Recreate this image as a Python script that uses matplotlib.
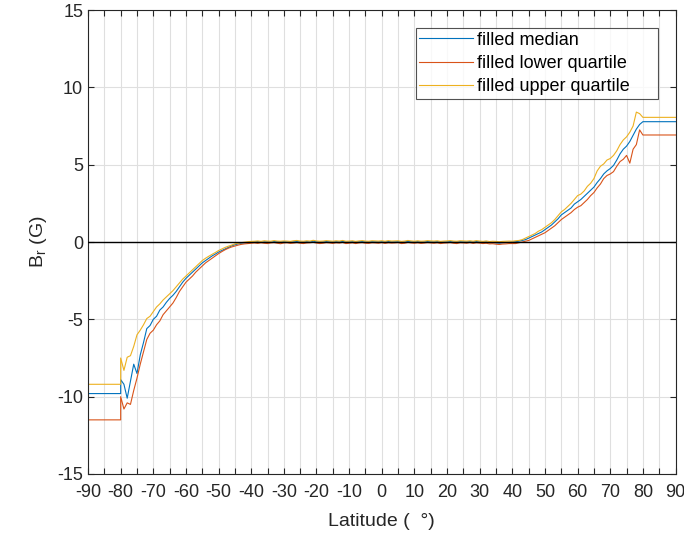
import numpy as np
import matplotlib
matplotlib.use('Agg')
import matplotlib.pyplot as plt

plt.rcParams['font.family'] = ['Liberation Sans', 'DejaVu Sans']
plt.rcParams['axes.unicode_minus'] = False

# latitude grid of the data (degrees)
lat_data = np.arange(-80, 81, 1)

# fill values used poleward of +-80
fill_south = {'median': -9.8, 'lower': -11.5, 'upper': -9.2}
fill_north = {'median': 7.78, 'lower': 6.92, 'upper': 8.06}

# median Br (G), -80 .. 80 by 1 degree
med_south = [-8.9, -9.2, -10.1, -9.0, -7.9, -8.5, -7.3, -6.5, -5.6, -5.4,
             -5.0, -4.8, -4.4, -4.2, -3.9, -3.65, -3.45, -3.2, -2.9, -2.6,
             -2.35, -2.15, -1.95, -1.75, -1.55, -1.35, -1.2, -1.05, -0.9, -0.78,
             -0.65, -0.55, -0.45, -0.35, -0.25, -0.18, -0.12, -0.08, -0.05, -0.03,
             -0.02]
med_mid = [0.0, 0.02, -0.03, 0.01, 0.0, -0.02, 0.03, 0.01, -0.01, 0.02,
           0.0, -0.02, 0.01, 0.03, 0.0, -0.01, 0.02, 0.0, 0.05, 0.01,
           -0.02, 0.0, 0.03, 0.01, -0.01, 0.02, 0.0, 0.04, -0.01, 0.0,
           0.02, -0.02, 0.01, 0.03, 0.0, -0.01, 0.02, 0.01, 0.0, 0.02,
           -0.01, 0.03, 0.0, 0.01, 0.02, -0.02, 0.0, 0.04, 0.01, 0.0,
           0.02, -0.01, 0.0, 0.03, 0.01, 0.0, 0.02, -0.02, 0.0, 0.01,
           0.03, 0.0, -0.01, 0.02, 0.01, 0.0, 0.02, -0.01, 0.03, 0.0,
           -0.02, 0.01, -0.05, -0.03, -0.06, -0.08, -0.05, -0.03, -0.02]
med_north = [0.0, 0.02, 0.05, 0.1, 0.15, 0.25, 0.35, 0.45, 0.55, 0.65,
             0.8, 0.95, 1.1, 1.3, 1.5, 1.75, 1.9, 2.05, 2.2, 2.45,
             2.6, 2.75, 2.95, 3.15, 3.35, 3.55, 3.85, 4.1, 4.4, 4.6,
             4.75, 4.95, 5.3, 5.7, 6.0, 6.2, 6.5, 6.9, 7.3, 7.6,
             7.78]

# lower quartile
low_south = [-10.0, -10.8, -10.4, -10.5, -9.6, -8.8, -7.9, -7.1, -6.3, -5.9,
             -5.7, -5.35, -5.1, -4.7, -4.45, -4.2, -3.95, -3.6, -3.2, -2.9,
             -2.6, -2.4, -2.2, -1.95, -1.75, -1.55, -1.35, -1.2, -1.05, -0.9,
             -0.75, -0.62, -0.5, -0.4, -0.32, -0.26, -0.2, -0.15, -0.12, -0.1,
             -0.08]
low_mid = [-0.06, -0.09, -0.05, -0.08, -0.1, -0.06, -0.04, -0.08, -0.11, -0.06,
           -0.05, -0.09, -0.07, -0.04, -0.08, -0.1, -0.06, -0.05, -0.02, -0.07,
           -0.1, -0.08, -0.04, -0.06, -0.09, -0.05, -0.07, -0.03, -0.1, -0.08,
           -0.05, -0.1, -0.06, -0.04, -0.08, -0.09, -0.05, -0.06, -0.08, -0.04,
           -0.09, -0.05, -0.07, -0.06, -0.04, -0.1, -0.08, -0.03, -0.06, -0.08,
           -0.05, -0.09, -0.07, -0.04, -0.06, -0.08, -0.05, -0.1, -0.07, -0.06,
           -0.04, -0.08, -0.1, -0.05, -0.06, -0.08, -0.04, -0.09, -0.05, -0.07,
           -0.1, -0.08, -0.12, -0.11, -0.14, -0.16, -0.13, -0.12, -0.1]
low_north = [-0.1, -0.1, -0.05, 0.0, 0.05, 0.1, 0.2, 0.3, 0.4, 0.5,
             0.6, 0.75, 0.9, 1.05, 1.25, 1.45, 1.6, 1.75, 1.9, 2.1,
             2.25, 2.35, 2.55, 2.75, 3.0, 3.2, 3.5, 3.75, 4.1, 4.3,
             4.4, 4.55, 4.9, 5.2, 5.35, 5.6, 5.1, 6.0, 6.3, 7.25,
             6.92]

# upper quartile
upp_south = [-7.5, -8.3, -7.45, -7.35, -6.75, -6.0, -5.7, -5.35, -4.95, -4.8,
             -4.5, -4.2, -4.0, -3.75, -3.55, -3.35, -3.15, -2.9, -2.65, -2.4,
             -2.2, -2.0, -1.8, -1.6, -1.4, -1.2, -1.05, -0.92, -0.8, -0.68,
             -0.55, -0.45, -0.35, -0.27, -0.2, -0.12, -0.08, -0.04, -0.01, 0.02,
             0.04]
upp_mid = [0.05, 0.07, 0.04, 0.08, 0.06, 0.05, 0.09, 0.06, 0.05, 0.07,
           0.06, 0.04, 0.08, 0.1, 0.06, 0.05, 0.08, 0.06, 0.11, 0.07,
           0.05, 0.06, 0.09, 0.07, 0.05, 0.08, 0.06, 0.1, 0.05, 0.06,
           0.08, 0.04, 0.07, 0.09, 0.06, 0.05, 0.08, 0.07, 0.06, 0.08,
           0.05, 0.09, 0.06, 0.07, 0.08, 0.04, 0.06, 0.1, 0.07, 0.05,
           0.08, 0.05, 0.06, 0.09, 0.07, 0.06, 0.08, 0.04, 0.06, 0.07,
           0.09, 0.06, 0.05, 0.08, 0.07, 0.06, 0.08, 0.05, 0.09, 0.06,
           0.04, 0.07, 0.03, 0.05, 0.04, 0.02, 0.04, 0.05, 0.06]
upp_north = [0.05, 0.08, 0.1, 0.15, 0.25, 0.35, 0.45, 0.55, 0.7, 0.8,
             0.95, 1.1, 1.25, 1.45, 1.7, 1.95, 2.1, 2.3, 2.5, 2.75,
             3.0, 3.1, 3.3, 3.6, 3.8, 4.1, 4.6, 4.9, 5.05, 5.3,
             5.4, 5.6, 5.9, 6.3, 6.6, 6.8, 7.1, 7.5, 8.4, 8.3,
             8.06]

series = [
    ('filled median', 'median', med_south, med_mid, med_north, '#0072BD'),
    ('filled lower quartile', 'lower', low_south, low_mid, low_north, '#D95319'),
    ('filled upper quartile', 'upper', upp_south, upp_mid, upp_north, '#EDB120'),
]

fig = plt.figure(figsize=(6.84, 5.39), dpi=100)
ax = fig.add_axes([0.1287, 0.1206, 0.8589, 0.8608])

x = np.concatenate([[-90, -80], lat_data, [90]])
for label, key, s, m, n, col in series:
    vals = np.array(s + m + n)
    y = np.concatenate([[fill_south[key], fill_south[key]], vals, [fill_north[key]]])
    ax.plot(x, y, color=col, lw=0.8, label=label)

ax.axhline(0, color='k', lw=1.0, zorder=3)

ax.set_xlim(-90, 90)
ax.set_ylim(-15, 15)
xt = np.arange(-90, 91, 5)
ax.set_xticks(xt)
ax.set_xticklabels([str(v) if v % 10 == 0 else '' for v in xt])
ax.set_yticks(np.arange(-15, 16, 5))
ax.grid(True, color='#dfdfdf', lw=0.8)
ax.set_axisbelow(True)
ax.tick_params(direction='in', length=4, width=0.8, colors='#262626',
               labelsize=13, top=True, right=True)
ax.tick_params(axis='x', pad=7)
for sp in ax.spines.values():
    sp.set_color('#262626')
    sp.set_linewidth(0.8)

ax.set_xlabel('Latitude (  \u00b0)', fontsize=14, color='#262626', labelpad=9)
ax.set_ylabel('B$_\\mathregular{r}$ (G)', fontsize=14, color='#262626', labelpad=6)

# MATLAB style legend: extra room after the longest label
handles, labels = ax.get_legend_handles_labels()
labels[2] = labels[2] + '     '
leg = ax.legend(handles, labels, loc='upper right', bbox_to_anchor=(0.970, 0.961),
                fontsize=13, frameon=True, fancybox=False, edgecolor='#262626',
                handlelength=2.95, handletextpad=0.22, borderpad=0.2,
                labelspacing=0.35, borderaxespad=0)
leg.get_frame().set_linewidth(0.8)

fig.savefig('out.png', dpi=100)
